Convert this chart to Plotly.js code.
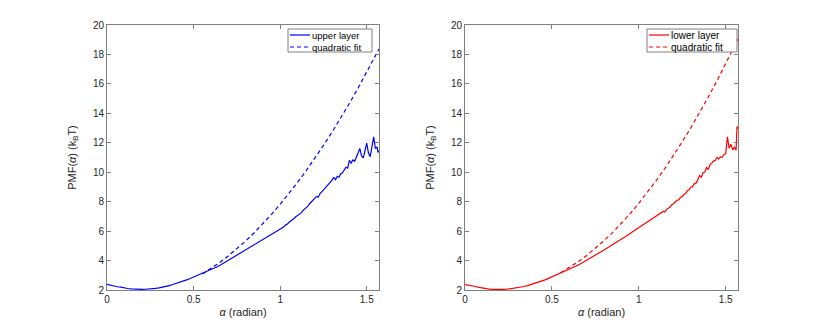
<!DOCTYPE html>
<html>
<head>
<meta charset="utf-8">
<script src="https://cdn.plot.ly/plotly-3.0.1.min.js"></script>
<style>
  html, body { margin: 0; padding: 0; background: #fff; }
  #myDiv { width: 817px; height: 327px; }
</style>
</head>
<body>
<div id="myDiv"></div>
<script>
// angle grid (radian) shared by both layers
var alpha = [0,0.02,0.04,0.06,0.08,0.10,0.12,0.14,0.16,0.18,0.20,0.22,0.24,0.26,0.28,0.30,0.32,0.34,0.36,0.38,
    0.40,0.42,0.44,0.46,0.48,0.50,0.52,0.54,0.56,0.58,0.60,0.62,0.64,0.66,0.68,0.70,0.72,0.74,0.76,0.78,
    0.80,0.82,0.84,0.86,0.88,0.90,0.92,0.94,0.96,0.98,1.00,
    1.01,1.02,1.03,1.04,1.05,1.06,1.07,1.08,1.09,1.10,1.11,1.12,1.13,1.14,1.15,1.16,1.17,1.18,1.19,1.20,
    1.21,1.22,1.23,1.24,1.25,1.26,1.27,1.28,1.29,1.30,1.31,1.32,1.33,1.34,1.35,1.36,1.37,1.38,1.39,1.40,
    1.41,1.42,1.43,1.44,1.45,1.46,1.47,1.48,1.49,1.50,1.51,1.52,1.53,1.54,1.55,1.56,1.565,1.5708];

var pmfUpper = [2.38,2.31,2.29,2.22,2.20,2.13,2.10,2.07,2.05,2.05,2.04,2.05,2.06,2.08,2.11,2.15,2.19,2.24,2.30,2.37,
    2.44,2.52,2.60,2.69,2.78,2.88,2.98,3.07,3.17,3.26,3.37,3.48,3.60,3.73,3.87,4.01,4.15,4.29,4.44,4.58,
    4.72,4.86,5.01,5.15,5.29,5.43,5.57,5.71,5.86,6.00,6.14,
    6.22,6.28,6.41,6.46,6.58,6.66,6.80,6.86,6.97,7.05,7.18,7.22,7.38,7.48,7.62,7.70,7.86,7.98,8.12,8.24,
    8.36,8.30,8.55,8.66,8.78,8.92,9.04,9.18,9.32,9.48,9.64,9.50,9.72,9.66,9.90,9.96,10.16,10.34,10.28,10.80,
    10.62,10.84,10.74,10.98,11.30,11.62,11.10,10.98,11.48,11.98,11.30,11.06,11.72,12.41,11.60,11.72,11.35,11.45];

var pmfLower = [2.36,2.33,2.30,2.24,2.18,2.13,2.09,2.06,2.04,2.03,2.03,2.04,2.05,2.08,2.11,2.15,2.19,2.24,2.30,2.37,
    2.44,2.52,2.60,2.69,2.79,2.89,2.99,3.09,3.19,3.29,3.40,3.51,3.63,3.75,3.88,4.01,4.15,4.29,4.43,4.58,
    4.72,4.87,5.01,5.16,5.30,5.45,5.60,5.76,5.92,6.08,6.24,
    6.30,6.38,6.46,6.52,6.62,6.70,6.78,6.84,6.94,7.00,7.08,7.16,7.22,7.34,7.30,7.48,7.56,7.64,7.80,7.86,
    7.98,8.10,8.12,8.30,8.34,8.50,8.56,8.74,8.80,9.00,9.02,9.24,9.26,9.50,9.78,9.66,9.98,10.00,10.32,10.18,
    10.52,10.62,10.76,10.80,11.00,10.90,11.04,11.02,11.20,11.26,12.41,11.62,11.90,11.52,11.70,11.50,13.10,12.95];

// quadratic fits
var alphaFit = [0.55,0.60,0.65,0.70,0.75,0.80,0.85,0.90,0.95,1.00,1.05,1.10,1.15,1.20,1.25,1.30,1.35,1.40,1.45,1.50,1.55,1.5708];
var fitUpper = [3.08,3.45,3.86,4.31,4.80,5.32,5.89,6.49,7.14,7.82,8.54,9.30,10.10,10.94,11.82,12.73,13.69,14.68,15.72,16.79,17.90,18.37];
var fitLower = [3.17,3.52,3.91,4.34,4.82,5.35,5.91,6.53,7.18,7.89,8.63,9.43,10.26,11.14,12.07,13.03,14.05,15.11,16.21,17.36,18.55,19.06];

var xTicks = [0, 0.5, 1, 1.5];
var yTicks = [2,4,6,8,10,12,14,16,18,20];

var font = 'Liberation Sans, Arial, sans-serif';
var dashStyle = '4px,3px';

var data = [
    {x: alpha, y: pmfUpper, type: 'scatter', mode: 'lines', name: 'upper layer',
     line: {color: '#0000ff', width: 1.2}, xaxis: 'x', yaxis: 'y'},
    {x: alphaFit, y: fitUpper, type: 'scatter', mode: 'lines', name: 'quadratic fit',
     line: {color: '#0000ff', width: 1.2, dash: dashStyle}, xaxis: 'x', yaxis: 'y'},
    {x: alpha, y: pmfLower, type: 'scatter', mode: 'lines', name: 'lower layer',
     line: {color: '#ff0000', width: 1.2}, xaxis: 'x2', yaxis: 'y2'},
    {x: alphaFit, y: fitLower, type: 'scatter', mode: 'lines', name: 'quadratic fit',
     line: {color: '#ff0000', width: 1.2, dash: dashStyle}, xaxis: 'x2', yaxis: 'y2'}
];

function xAxis(domain, anchor) {
    return {
        domain: domain, anchor: anchor, range: [0, 1.5708],
        tickvals: xTicks, ticktext: ['0', '0.5', '1', '1.5'],
        ticks: 'inside', ticklen: 4, tickcolor: '#808080',
        showline: true, linecolor: '#808080', linewidth: 1, mirror: 'ticks',
        showgrid: false, zeroline: false,
        tickfont: {family: font, size: 10, color: '#262626'},
        title: {text: '<i>α</i> (radian)', font: {family: font, size: 11, color: '#262626'}, standoff: 4}
    };
}
function yAxis(anchor) {
    return {
        domain: [0, 1], anchor: anchor, range: [2, 20],
        tickvals: yTicks,
        ticks: 'inside', ticklen: 4, tickcolor: '#808080',
        showline: true, linecolor: '#808080', linewidth: 1, mirror: 'ticks',
        showgrid: false, zeroline: false,
        tickfont: {family: font, size: 10, color: '#262626'},
        title: {text: 'PMF(<i>α</i>) (k<sub>B</sub>T)', font: {family: font, size: 11, color: '#262626'}, standoff: 14}
    };
}

// MATLAB-style legend boxes drawn with shapes + annotations (pixel -> paper)
var figW = 817, plotTop = 25, plotBottom = 290;
function px(x) { return x / figW; }
function py(y) { return (plotBottom - y) / (plotBottom - plotTop); }
var shapes = [], annotations = [];
function addLegend(box, labels, color, fontSize) {
    shapes.push({type: 'rect', xref: 'paper', yref: 'paper',
        x0: px(box[0]), x1: px(box[1]), y0: py(box[3]), y1: py(box[2]),
        line: {color: '#808080', width: 1}, fillcolor: '#ffffff', layer: 'above'});
    var rows = [box[2] + 6, box[2] + 18];
    for (var i = 0; i < 2; i++) {
        shapes.push({type: 'line', xref: 'paper', yref: 'paper',
            x0: px(box[0] + 2), x1: px(box[0] + 22), y0: py(rows[i]), y1: py(rows[i]),
            line: {color: color, width: 1.2, dash: i === 1 ? dashStyle : 'solid'}, layer: 'above'});
        annotations.push({xref: 'paper', yref: 'paper', x: px(box[0] + 23), y: py(rows[i]),
            xanchor: 'left', yanchor: 'middle', showarrow: false, text: labels[i],
            borderpad: 0, font: {family: font, size: fontSize, color: '#000000'}});
    }
}
addLegend([288, 372, 29, 52], ['upper layer', 'quadratic fit'], '#0000ff', 9.5);
addLegend([647, 737, 29, 52], ['lower layer', 'quadratic fit'], '#ff0000', 10);

var layout = {
    autosize: false,
    width: 817,
    height: 327,
    margin: {l: 0, r: 0, t: 25, b: 37},
    paper_bgcolor: '#ffffff',
    plot_bgcolor: '#ffffff',
    showlegend: false,
    xaxis: xAxis([107 / 817, 379 / 817], 'y'),
    yaxis: yAxis('x'),
    xaxis2: xAxis([465 / 817, 738 / 817], 'y2'),
    yaxis2: yAxis('x2'),
    shapes: shapes,
    annotations: annotations
};

Plotly.newPlot('myDiv', data, layout, {displayModeBar: false, staticPlot: true});
</script>
</body>
</html>
